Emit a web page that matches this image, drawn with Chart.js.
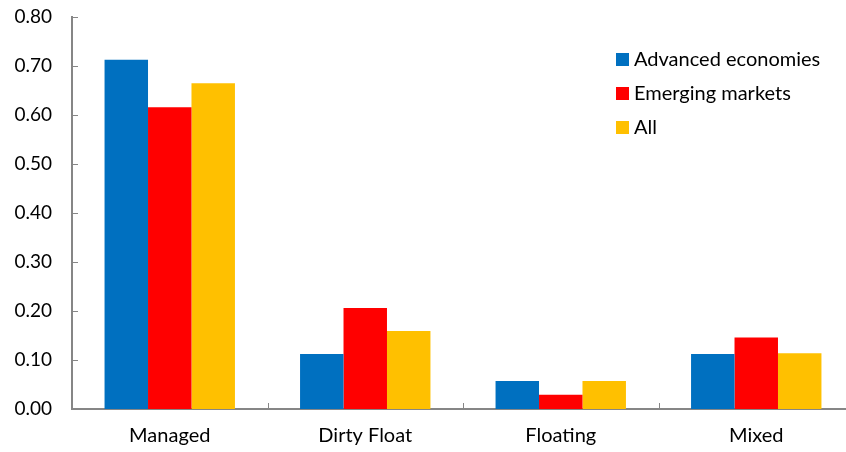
<!DOCTYPE html>
<html>
<head>
<meta charset="utf-8">
<script src="https://cdn.jsdelivr.net/npm/chart.js@4/dist/chart.umd.min.js"></script>
<style>
  html, body { margin: 0; padding: 0; background: #fff; overflow: hidden; }
  #wrap { position: relative; width: 858px; height: 452px; }
</style>
</head>
<body>
<div id="wrap"><canvas id="c"></canvas></div>
<script>
// Exchange-rate regime categories and the share in each group
const categories = ['Managed', 'Dirty Float', 'Floating', 'Mixed'];
const advancedEconomies = [0.713, 0.112, 0.057, 0.112];
const emergingMarkets   = [0.616, 0.206, 0.029, 0.146];
const allCountries      = [0.665, 0.159, 0.057, 0.114];
const seriesNames = ['Advanced economies', 'Emerging markets', 'All'];
const seriesColors = ['#0070C0', '#FF0000', '#FFC000'];

const FONT = 'Lato, "Open Sans", sans-serif';
const AXIS = '#868686';

// Short tick marks drawn on the inside of both axes
const innerTicks = {
  id: 'innerTicks',
  afterDatasetsDraw(chart) {
    const { ctx, chartArea, scales } = chart;
    ctx.save();
    ctx.strokeStyle = AXIS;
    ctx.lineWidth = 1;
    scales.y.ticks.forEach((t, i) => {
      const y = Math.round(scales.y.getPixelForTick(i)) + 0.5;
      ctx.beginPath();
      ctx.moveTo(chartArea.left, y);
      ctx.lineTo(chartArea.left + 6, y);
      ctx.stroke();
    });
    const n = categories.length;
    for (let i = 1; i < n; i++) {
      const x = Math.round((scales.x.getPixelForValue(i - 1) + scales.x.getPixelForValue(i)) / 2) + 0.5;
      ctx.beginPath();
      ctx.moveTo(x, chartArea.bottom);
      ctx.lineTo(x, chartArea.bottom - 6);
      ctx.stroke();
    }
    ctx.restore();
  }
};

// Legend placed inside the plot at the upper right
const insideLegend = {
  id: 'insideLegend',
  afterDraw(chart) {
    const { ctx } = chart;
    ctx.save();
    ctx.font = '20px ' + FONT;
    ctx.textBaseline = 'middle';
    chart.data.datasets.forEach((ds, i) => {
      const y = 59 + i * 34;
      ctx.fillStyle = ds.backgroundColor;
      ctx.fillRect(616, y - 6, 13, 13);
      ctx.fillStyle = '#000';
      ctx.fillText(ds.label, 634, y + 1);
    });
    ctx.restore();
  }
};

new Chart(document.getElementById('c'), {
  type: 'bar',
  data: {
    labels: categories,
    datasets: [
      { label: seriesNames[0], data: advancedEconomies, backgroundColor: seriesColors[0] },
      { label: seriesNames[1], data: emergingMarkets,   backgroundColor: seriesColors[1] },
      { label: seriesNames[2], data: allCountries,      backgroundColor: seriesColors[2] }
    ]
  },
  options: {
    responsive: true,
    maintainAspectRatio: false,
    animation: false,
    layout: { padding: { top: 17, right: 4, left: 0, bottom: 0 } },
    datasets: { bar: { categoryPercentage: 0.667, barPercentage: 1.0, borderWidth: 0 } },
    plugins: { legend: { display: false }, tooltip: { enabled: false } },
    scales: {
      x: {
        grid: { display: false, drawTicks: false },
        border: { display: true, color: AXIS, width: 2 },
        ticks: { color: '#000', font: { family: FONT, size: 20 }, padding: 15 },
        afterFit(scale) { scale.height = 43; scale.paddingLeft = 0; scale.paddingRight = 0; }
      },
      y: {
        min: 0, max: 0.8,
        grid: { display: false, drawTicks: false },
        border: { display: true, color: AXIS, width: 2 },
        ticks: {
          stepSize: 0.1,
          color: '#000',
          font: { family: FONT, size: 19 },
          padding: 20,
          callback: v => Number(v).toFixed(2)
        },
        afterFit(scale) { scale.width = 72; scale.paddingTop = 0; scale.paddingBottom = 0; }
      }
    }
  },
  plugins: [innerTicks, insideLegend]
});
</script>
</body>
</html>
